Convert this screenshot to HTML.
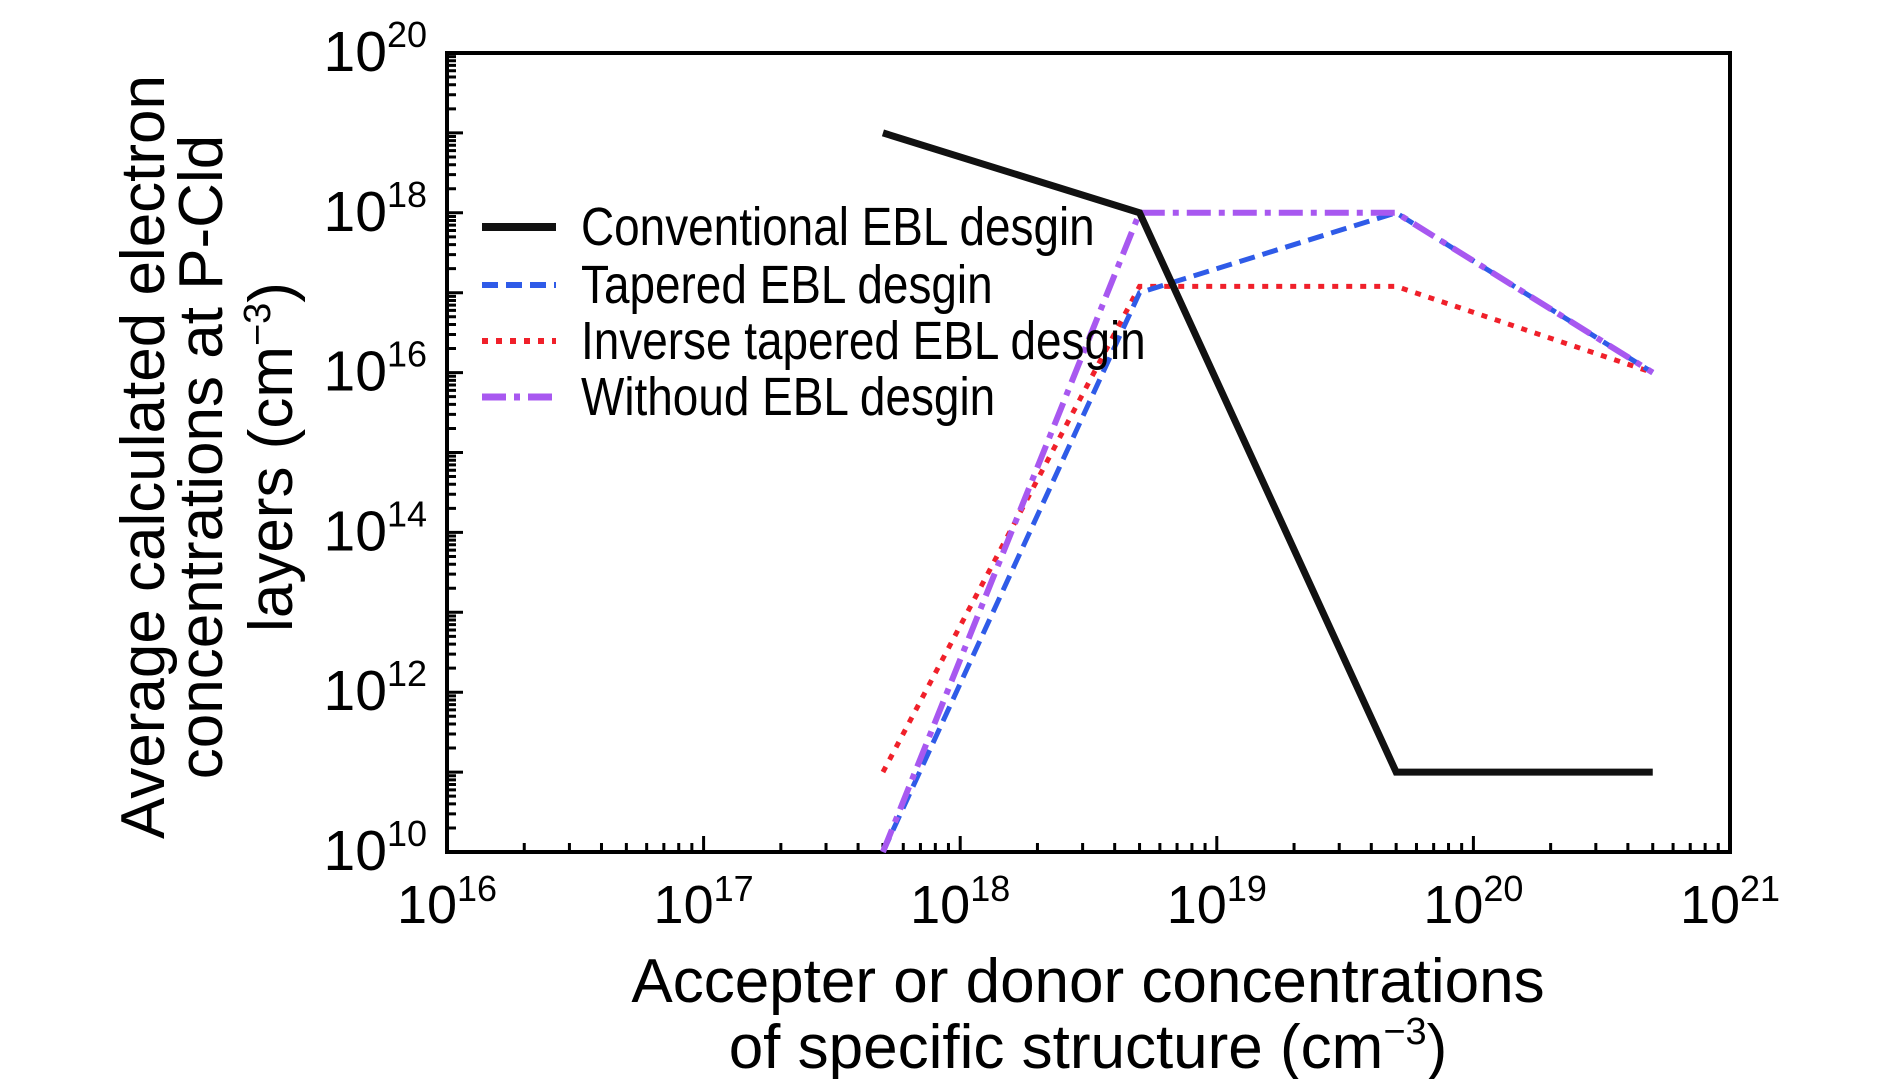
<!DOCTYPE html>
<html><head><meta charset="utf-8"><style>
body{margin:0;background:#fff}
svg text{font-family:"Liberation Sans",sans-serif;fill:#000}
</style></head><body>
<svg id="chart" width="1890" height="1079" xmlns="http://www.w3.org/2000/svg">
<g id="axes"></g><g id="series"></g><g id="legend"></g>
<g font-size="62" text-anchor="middle">
<text transform="translate(164,457) rotate(-90)">Average calculated electron</text>
<text transform="translate(222,457) rotate(-90)">concentrations at P-Cld</text>
<text transform="translate(292,457) rotate(-90)">layers (cm<tspan dy="-22" font-size="38">−3</tspan><tspan dy="22">)</tspan></text>
</g>
<g font-size="62" text-anchor="middle">
<text x="1088" y="1002">Accepter or donor concentrations</text>
<text x="1088" y="1068">of specific structure (cm<tspan dy="-24" font-size="38">−3</tspan><tspan dy="24">)</tspan></text>
</g>
</svg>
<script>
const xDecades=[16,17,18,19,20,21];
const yDecades=[10,12,14,16,18,20];
const xVals=[5e17,5e18,5e19,5e20];
const conventional=[1e19,1e18,1e11,1e11];
const tapered=[1e10,1e17,1e18,1e16];
const inverse=[1e11,1.2e17,1.2e17,1e16];
const withoud=[1e10,1e18,1e18,1e16];
const seriesNames=["Conventional EBL desgin","Tapered EBL desgin","Inverse tapered EBL desgin","Withoud EBL desgin"];

const L=447,R=1730,T=53,B=852;
const xs=v=>L+(Math.log10(v)-16)/5*(R-L);
const ys=v=>B-(Math.log10(v)-10)/10*(B-T);
const NS="http://www.w3.org/2000/svg";
function mk(tag,attrs,parent){const e=document.createElementNS(NS,tag);for(const k in attrs)e.setAttribute(k,attrs[k]);parent.appendChild(e);return e;}
const axes=document.getElementById('axes');
const frame=mk('rect',{x:L,y:T,width:R-L,height:B-T,fill:'none',stroke:'#000','stroke-width':4},axes);


let tp='';
for(let d=16;d<21;d++){for(let m=1;m<10;m++){const x=xs(m*Math.pow(10,d));if(m===1&&d===16)continue;tp+=`M${x},${B}V${B-(m===1?16:9)}`;}}
for(let d=10;d<20;d++){for(let m=1;m<10;m++){const y=ys(m*Math.pow(10,d));if(m===1&&d===10)continue;tp+=`M${L},${y}H${L+(m===1?16:9)}`;}}
const ticks=mk('path',{d:tp,stroke:'#000','stroke-width':3,fill:'none'},axes);


xDecades.forEach(d=>{
 const t=mk('text',{x:xs(Math.pow(10,d)),y:923,'font-size':54,'text-anchor':'middle'},axes);
 t.innerHTML='10<tspan dy="-22" font-size="36">'+d+'</tspan>';
 
 
});
yDecades.forEach(d=>{
 const t=mk('text',{x:427,y:ys(Math.pow(10,d))+18,'font-size':57,'text-anchor':'end'},axes);
 t.innerHTML='10<tspan dy="-24" font-size="36">'+d+'</tspan>';
 
 
});
const styles=[
 {c:'#111',w:7,dash:''},
 {c:'#2f5be8',w:5,dash:'16,8'},
 {c:'#f0202a',w:5,dash:'6,8'},
 {c:'#a858f0',w:6,dash:'24,8,6,8'}];
const data=[conventional,tapered,inverse,withoud];
const sg=document.getElementById('series');
const order=[2,1,3,0];
order.forEach(i=>{
 const pts=xVals.map((x,j)=>xs(x)+','+ys(data[i][j])).join(' ');
 const p=mk('polyline',{points:pts,fill:'none',stroke:styles[i].c,'stroke-width':styles[i].w,'stroke-dasharray':styles[i].dash,'stroke-linejoin':'miter'},sg);
 
 
});
const lg=document.getElementById('legend');
const rows=[227,285,341,397];
seriesNames.forEach((n,i)=>{
 const g=mk('g',{},lg);
 
 
 mk('line',{x1:482,x2:556,y1:rows[i],y2:rows[i],stroke:styles[i].c,'stroke-width':styles[i].w+1,'stroke-dasharray':styles[i].dash},g);
 const t=mk('text',{x:0,y:0,'font-size':54,transform:`translate(581,${rows[i]+18}) scale(0.85,1)`},g);
 t.textContent=n;
});
</script>
</body></html>
